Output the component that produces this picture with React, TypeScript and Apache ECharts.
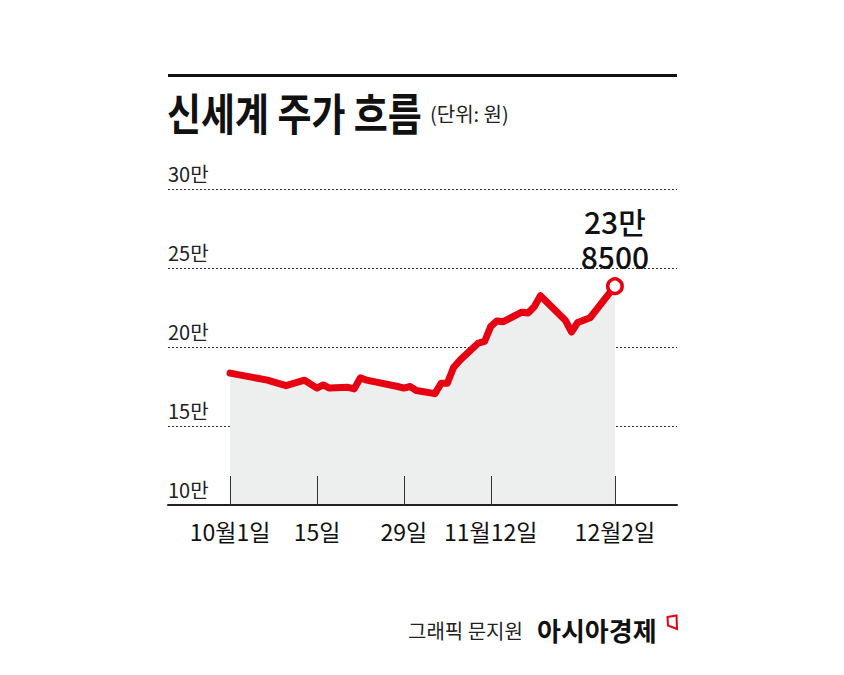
import React, { useEffect, useRef } from "react";
import * as echarts from "echarts";

const dates = ["2020-10-01","2020-10-07","2020-10-10","2020-10-13","2020-10-15","2020-10-16","2020-10-17","2020-10-20","2020-10-21","2020-10-22","2020-10-23","2020-10-28","2020-10-29","2020-10-30","2020-10-31","2020-11-03","2020-11-04","2020-11-05","2020-11-06","2020-11-07","2020-11-10","2020-11-11","2020-11-12","2020-11-13","2020-11-14","2020-11-17","2020-11-18","2020-11-19","2020-11-20","2020-11-24","2020-11-25","2020-11-26","2020-11-28","2020-12-02"];
const prices = [183500,179000,175500,179000,174000,176000,174000,174500,173500,180500,179000,175000,174000,175000,172500,170500,177000,177000,187000,191500,202500,203500,213000,216500,216000,222000,221500,225500,232500,217000,209500,215500,218500,238500];

const tickDates = ["2020-10-01","2020-10-15","2020-10-29","2020-11-12","2020-12-02"];
const tickLabels = ["10월1일","15일","29일","11월12일","12월2일"];
const axisStart = "2020-09-21";
const axisEnd = "2020-12-12";

const yMin = 100000;
const yMax = 300000;
const yStep = 50000;

const title = "신세계 주가 흐름";
const unit = "(단위: 원)";
const credit = "그래픽 문지원";
const brand = "아시아경제";

const FONT = "'Noto Sans CJK KR', 'Noto Sans', sans-serif";
const RED = "#e60012";

const DAY = 86400000;
const ts = (s: string) => Date.UTC(+s.slice(0, 4), +s.slice(5, 7) - 1, +s.slice(8, 10)) / DAY;

export default function App() {
  const ref = useRef<HTMLDivElement>(null);
  useEffect(() => {
    if (!ref.current) return;
    const chart = echarts.init(ref.current, null, { renderer: "svg" });
    const seriesData = dates.map((d, i) => [ts(d), prices[i]]);
    const last = seriesData[seriesData.length - 1];
    const tickTs = tickDates.map(ts);
    const labelBase = {
      show: true,
      position: "top",
      fontSize: 30,
      lineHeight: 30,
      fontWeight: 500,
      fontFamily: FONT,
      color: "#111",
      align: "center",
    };
    chart.setOption({
      animation: false,
      backgroundColor: "#ffffff",
      grid: { left: 168, right: 167, top: 189, bottom: 170 },
      xAxis: {
        type: "value",
        min: ts(axisStart),
        max: ts(axisEnd),
        z: 4,
        axisLine: { show: true, lineStyle: { color: "#222", width: 2 } },
        axisTick: {
          show: true,
          inside: true,
          length: 29,
          customValues: tickTs,
          lineStyle: { color: "#333", width: 1 },
        },
        axisLabel: {
          show: true,
          customValues: tickTs,
          margin: 14,
          fontSize: 23,
          fontFamily: FONT,
          color: "#111",
          formatter: (v: number) => {
            const i = tickTs.indexOf(v);
            return i >= 0 ? tickLabels[i] : "";
          },
        },
        splitLine: { show: false },
      },
      yAxis: {
        type: "value",
        min: yMin,
        max: yMax,
        interval: yStep,
        axisLine: { show: false },
        axisTick: { show: false },
        axisLabel: {
          inside: true,
          margin: 0,
          align: "left",
          verticalAlign: "bottom",
          padding: [0, 0, 6, 0],
          fontSize: 20,
          fontFamily: FONT,
          color: "#222",
          formatter: (v: number) => v / 10000 + "만",
        },
        splitLine: {
          show: true,
          lineStyle: { color: "#333", width: 1, type: [2, 2] },
        },
      },
      series: [
        {
          type: "line",
          data: seriesData,
          symbol: "none",
          lineStyle: { color: RED, width: 7, cap: "round", join: "round" },
          areaStyle: { color: "#edeeee", opacity: 1, origin: "start" },
          z: 3,
        },
        {
          type: "scatter",
          data: [last],
          symbol: "circle",
          symbolSize: 14.5,
          itemStyle: { color: "rgba(0,0,0,0)", borderWidth: 0, opacity: 1 },
          label: {
            ...labelBase,
            distance: 43,
            formatter: (p: any) => Math.floor(p.value[1] / 10000) + "만",
          },
          z: 4,
        },
        {
          type: "scatter",
          data: [last],
          symbol: "circle",
          symbolSize: 14.5,
          itemStyle: { color: "#fff", borderColor: RED, borderWidth: 3.5, opacity: 1 },
          label: {
            ...labelBase,
            distance: 6,
            formatter: (p: any) => String(p.value[1] % 10000),
          },
          z: 5,
        },
      ],
      graphic: [
        { type: "rect", shape: { x: 168, y: 74, width: 509, height: 3 }, style: { fill: "#111" } },
        {
          type: "text",
          x: 167,
          y: 112,
          scaleX: 0.84,
          style: { text: title, font: `bold 44px ${FONT}`, fill: "#111", verticalAlign: "middle" },
        },
        {
          type: "text",
          x: 430,
          y: 113,
          style: { text: unit, font: `20px ${FONT}`, fill: "#222", verticalAlign: "middle" },
        },
        {
          type: "text",
          x: 408,
          y: 630,
          style: { text: credit, font: `20px ${FONT}`, fill: "#222", verticalAlign: "middle" },
        },
        {
          type: "text",
          x: 537,
          y: 629,
          style: { text: brand, font: `bold 26px ${FONT}`, fill: "#111", verticalAlign: "middle" },
        },
        {
          type: "polygon",
          shape: { points: [[667.5, 617], [676.5, 615.5], [677, 629], [668, 625.5]] },
          style: { fill: "none", stroke: RED, lineWidth: 2 },
        },
      ],
    });
    return () => chart.dispose();
  }, []);
  return (
    <div
      ref={ref}
      style={{ position: "fixed", left: 0, top: 0, width: 844, height: 675 }}
    />
  );
}
